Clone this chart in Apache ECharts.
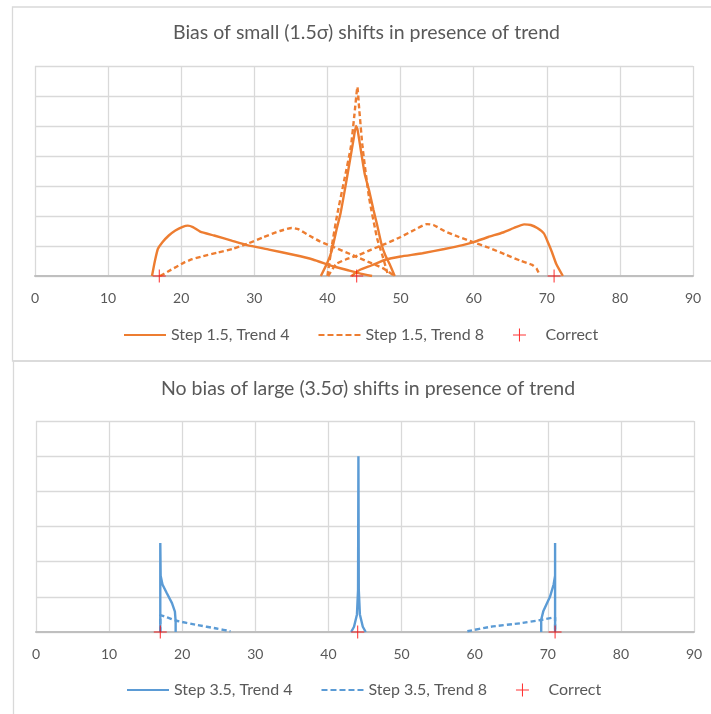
<!DOCTYPE html>
<html>
<head>
<meta charset="utf-8">
<script src="https://cdn.jsdelivr.net/npm/echarts@6/dist/echarts.min.js"></script>
<style>
html,body{margin:0;padding:0;background:#fff;}
#c{width:711px;height:714px;}
</style>
</head>
<body>
<div id="c"></div>
<script>
// ---------- data ----------
const xTicks = [0, 10, 20, 30, 40, 50, 60, 70, 80, 90];
const correctX = [17, 44, 71];

// top panel: Step 1.5
const topTrend4Left = [[16.0,0],[16.4,0.5],[16.8,0.9],[17.4,1.12],[18.3,1.35],[19.2,1.52],[20.2,1.64],[20.9,1.68],[21.6,1.63],[22.6,1.48],[24.5,1.35],[27,1.17],[29,1.03],[32,0.88],[35.5,0.7],[38,0.55],[40.7,0.33],[43,0.18],[44.5,0.08],[46.1,0]];
const topTrend4Center = [[39.1,0],[40.0,0.45],[40.6,0.85],[41.2,1.5],[41.8,2.1],[42.4,2.9],[42.9,3.6],[43.6,4.6],[43.9,5.0],[44.1,4.9],[44.5,4.3],[45.1,3.4],[45.7,2.85],[46.3,2.2],[46.8,1.7],[47.4,1.05],[47.9,0.7],[48.5,0.4],[49.2,0]];
const topTrend4Right = [[43.3,0],[44.4,0.2],[46,0.35],[48,0.55],[50,0.65],[53,0.76],[56,0.9],[58.5,1.03],[60,1.13],[62,1.3],[64,1.45],[65.5,1.6],[66.9,1.72],[67.8,1.7],[68.7,1.6],[69.6,1.42],[70.2,1.1],[70.7,0.8],[71.3,0.4],[72.2,0]];
const topTrend8Left = [[17.1,0],[18.2,0.15],[19.3,0.3],[20.5,0.46],[21.5,0.56],[23,0.66],[25,0.78],[27,0.9],[29,1.07],[31.3,1.3],[33.5,1.5],[35.1,1.6],[36,1.56],[37.5,1.35],[39,1.15],[41,0.95],[43.6,0.68],[45.5,0.48],[47.5,0.27],[48.3,0.15],[49,0.03]];
const topTrend8Center = [[40,0],[40.6,1.0],[41.3,2.0],[42.3,3.2],[43.2,4.3],[43.7,5.4],[44.1,6.3],[44.3,5.7],[44.8,4.3],[45.7,2.6],[46.8,1.25],[47.5,0.7],[48.2,0.1]];
const topTrend8Right = [[40.1,0],[41.2,0.4],[42.5,0.55],[44.3,0.7],[46,0.88],[48,1.08],[50,1.3],[52,1.55],[53.6,1.73],[54.5,1.7],[56,1.5],[58,1.3],[60,1.12],[62,0.95],[64.5,0.7],[66.5,0.5],[68,0.37],[68.6,0.25],[68.9,0.1]];

// bottom panel: Step 3.5
const botTrend4Left = [[17,0],[17,2.53],[17.05,1.6],[17.3,1.35],[17.9,1.1],[18.6,0.82],[19.0,0.58],[19.1,0.3],[19.1,0]];
const botTrend4Center = [[43.1,0],[43.5,0.15],[43.9,0.5],[44.05,1.2],[44.1,5.0],[44.15,1.2],[44.3,0.5],[44.7,0.15],[45.1,0]];
const botTrend4Right = [[69.1,0],[69.1,0.35],[69.4,0.6],[70.3,1.0],[70.8,1.35],[71,1.6],[71,2.53],[71,0]];
const botTrend8Left = [[17,0],[17,0.48],[17.9,0.42],[19.2,0.32],[22,0.2],[24.7,0.1],[26.6,0.02]];
const botTrend8Right = [[59,0.02],[62.2,0.15],[66.3,0.25],[69,0.34],[71,0.42],[71,0]];

const topNames = ['Step 1.5, Trend 4', 'Step 1.5, Trend 8', 'Correct'];
const botNames = ['Step 3.5, Trend 4', 'Step 3.5, Trend 8', 'Correct'];
const titles = ['Bias of small (1.5σ) shifts in presence of trend', 'No bias of large (3.5σ) shifts in presence of trend'];

// ---------- chart ----------
const ORANGE = '#ED7D31', BLUE = '#5B9BD5', RED = '#FF0000';
const FONT = 'Lato, "Open Sans", sans-serif';
const plus = 'path://M0,4.6H10V5.4H0Z M4.6,0H5.4V10H4.6Z';
// legend icons (42 x 13 box; tiny corner specks fix the bounding box)
const solidIcon = 'path://M0,0H0.01V0.01H0Z M41.99,12.99H42V13H41.99Z M0,5.4H42V7.6H0Z';
const dashIcon = 'path://M0,0H0.01V0.01H0Z M41.99,12.99H42V13H41.99Z M0,5.4H6V7.6H0Z M9,5.4H15V7.6H9Z M18,5.4H24V7.6H18Z M27,5.4H33V7.6H27Z M36,5.4H42V7.6H36Z';

function lineSeries(name, data, color, dashed, idx) {
  return {
    type: 'line', name: name, data: data, xAxisIndex: idx, yAxisIndex: idx,
    symbol: 'none', smooth: 0.15, z: 3,
    lineStyle: { color: color, width: 2.4, type: dashed ? [5, 3] : 'solid' },
    itemStyle: { color: color }
  };
}
function correctSeries(idx) {
  return {
    type: 'scatter', name: 'Correct', xAxisIndex: idx, yAxisIndex: idx,
    data: correctX.map(x => [x, 0]), symbol: plus, symbolSize: 13, z: 5,
    itemStyle: { color: RED }
  };
}
function xAxis(idx) {
  return {
    type: 'value', gridIndex: idx, min: 0, max: 90, interval: 10,
    axisLine: { show: true, onZero: false, lineStyle: { color: '#BFBFBF', width: 2 } },
    axisTick: { show: false },
    axisLabel: { color: '#595959', fontSize: 14, fontFamily: FONT, margin: 15 },
    splitLine: { show: true, lineStyle: { color: '#D9D9D9', width: 1.3 } }
  };
}
function yAxis(idx, max) {
  return {
    type: 'value', gridIndex: idx, min: 0, max: max, interval: 1,
    axisLine: { show: false }, axisTick: { show: false }, axisLabel: { show: false },
    splitLine: { show: true, lineStyle: { color: '#D9D9D9', width: 1.3 } }
  };
}
function legend(names, left, top) {
  return {
    left: left, top: top, padding: 0, itemWidth: 42, itemHeight: 13, itemGap: 29,
    textStyle: { color: '#595959', fontSize: 16, fontFamily: FONT },
    data: [
      { name: names[0], icon: solidIcon },
      { name: names[1], icon: dashIcon },
      { name: names[2], icon: plus }
    ]
  };
}

const chart = echarts.init(document.getElementById('c'), null, { renderer: 'canvas' });
chart.setOption({
  animation: false,
  backgroundColor: '#fff',
  grid: [
    { left: 35, right: 18, top: 66, height: 210 },
    { left: 36, right: 17, top: 421, height: 211 }
  ],
  xAxis: [xAxis(0), xAxis(1)],
  yAxis: [yAxis(0, 7), yAxis(1, 6)],
  legend: [legend(topNames, 124, 327), legend(botNames, 127, 682)],
  graphic: [
    { type: 'rect', shape: { x: 12.5, y: 7, width: 720, height: 354 }, style: { fill: 'none', stroke: '#D9D9D9', lineWidth: 1.3 }, z: -1 },
    { type: 'rect', shape: { x: 13.5, y: 361, width: 720, height: 380 }, style: { fill: 'none', stroke: '#D9D9D9', lineWidth: 1.3 }, z: -1 },
    { type: 'text', x: 366.5, y: 33, style: { text: titles[0], fill: '#595959', font: '19.5px ' + FONT, textAlign: 'center', textVerticalAlign: 'middle' } },
    { type: 'text', x: 368, y: 389, style: { text: titles[1], fill: '#595959', font: '19.5px ' + FONT, textAlign: 'center', textVerticalAlign: 'middle' } }
  ],
  series: [
    lineSeries(topNames[0], topTrend4Left, ORANGE, false, 0),
    lineSeries(topNames[0], topTrend4Center, ORANGE, false, 0),
    lineSeries(topNames[0], topTrend4Right, ORANGE, false, 0),
    lineSeries(topNames[1], topTrend8Left, ORANGE, true, 0),
    lineSeries(topNames[1], topTrend8Center, ORANGE, true, 0),
    lineSeries(topNames[1], topTrend8Right, ORANGE, true, 0),
    correctSeries(0),
    Object.assign(lineSeries(botNames[0], botTrend4Left, BLUE, false, 1), { smooth: false }),
    Object.assign(lineSeries(botNames[0], botTrend4Center, BLUE, false, 1), { smooth: false }),
    Object.assign(lineSeries(botNames[0], botTrend4Right, BLUE, false, 1), { smooth: false }),
    lineSeries(botNames[1], botTrend8Left, BLUE, true, 1),
    lineSeries(botNames[1], botTrend8Right, BLUE, true, 1),
    correctSeries(1)
  ]
});
</script>
</body>
</html>
